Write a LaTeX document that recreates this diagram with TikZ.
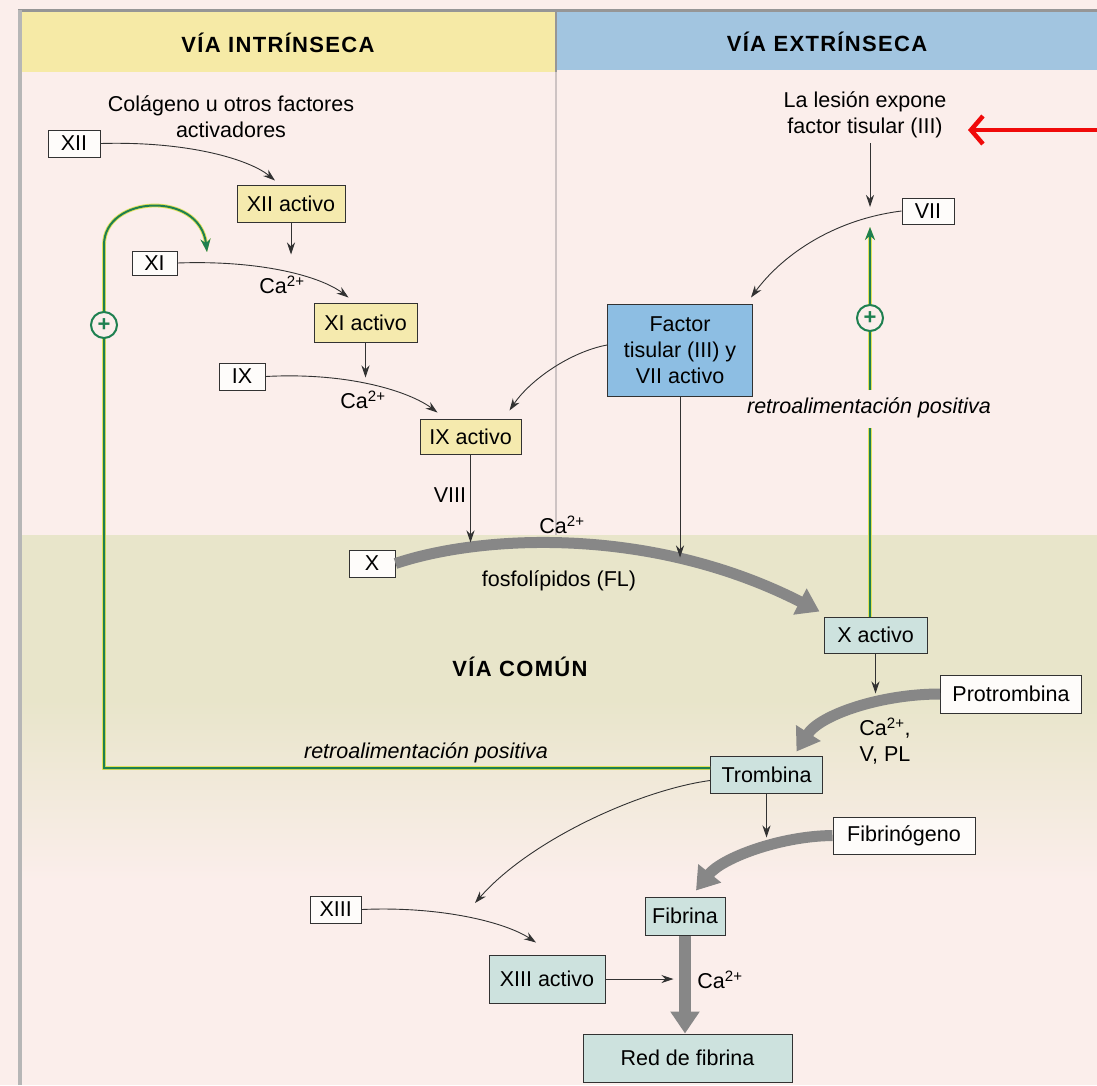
\documentclass[tikz,border=0pt]{standalone}
\usepackage{fontspec}
\setmainfont{Liberation Sans}
\usetikzlibrary{arrows.meta}
\definecolor{page}{RGB}{251,238,235}
\definecolor{band}{RGB}{232,229,202}
\definecolor{hdryellow}{RGB}{246,234,166}
\definecolor{hdrblue}{RGB}{162,197,224}
\definecolor{boxyellow}{RGB}{245,234,174}
\definecolor{boxblue}{RGB}{141,190,227}
\definecolor{boxteal}{RGB}{205,226,222}
\definecolor{boxwhite}{RGB}{254,252,250}
\definecolor{ink}{RGB}{50,50,50}
\definecolor{thickgrey}{RGB}{135,135,135}
\definecolor{fbgreen}{RGB}{30,128,80}
\definecolor{fbyellow}{RGB}{225,225,90}
\definecolor{framegrey}{RGB}{150,150,150}
\definecolor{sepgrey}{RGB}{205,195,195}
\definecolor{arrred}{RGB}{240,10,10}
\newcommand\fs{\fontsize{21.5}{26}\selectfont}
\newcommand\ttl{\fontsize{22}{26}\selectfont\bfseries\addfontfeatures{LetterSpace=6}}
\newcommand\caii{Ca\textsuperscript{2+}}
\begin{document}
\begin{tikzpicture}[x=1pt,y=-1pt,
  gbox/.style={draw=ink, line width=1pt, inner sep=0pt, align=center, font=\fs},
  wbox/.style={gbox, fill=boxwhite},
  ybox/.style={gbox, fill=boxyellow},
  blbox/.style={gbox, fill=boxblue},
  tbox/.style={gbox, fill=boxteal},
  lbl/.style={inner sep=0pt, align=center, font=\fs},
  ilbl/.style={inner sep=0pt, font=\fs\itshape},
  ttlnode/.style={inner sep=0pt, font=\ttl},
  thinarr/.style={draw=ink, line width=0.9pt, -{Stealth[length=12pt,width=8pt]}},
  thickarr/.style={draw=thickgrey, line width=11pt, -{Triangle[length=22pt,width=28pt]}},
  fbline/.style={draw=fbgreen, line width=2pt, preaction={draw=fbyellow, line width=3.8pt}},
  fbarr/.style={fbline, -{Stealth[length=13pt,width=10pt]}},
  plusnode/.style={circle, draw=fbgreen, line width=2pt, fill=page, inner sep=0pt, minimum size=26pt, text=fbgreen, font=\fontsize{22}{22}\selectfont\bfseries},
  redarr/.style={draw=arrred, line width=4.5pt, -{Straight Barb[length=12pt,width=28pt]}}
]
\useasboundingbox (0,0) rectangle (1097,1085);
% background
\fill[page] (0,0) rectangle (1097,1085);
\fill[band] (22,535) rectangle (1097,700);
\shade[top color=band, bottom color=page] (22,699.5) rectangle (1097,880);
\fill[hdryellow] (22,11) rectangle (556,72);
\fill[hdrblue] (556,11) rectangle (1097,70);
\draw[sepgrey, line width=1.5pt] (556,72) -- (556,535);
\draw[framegrey, line width=2pt] (556,10) -- (556,72);
\draw[framegrey, line width=3pt] (18,10) -- (1097,10);
\draw[framegrey!70, line width=4pt] (20,10) -- (20,1085);

% titles
\node[ttlnode] (tIntr) at (278,43) {VÍA INTRÍNSECA};
\node[ttlnode] (tExtr) at (827,42) {VÍA EXTRÍNSECA};
\node[ttlnode] (tComun) at (520,667) {VÍA COMÚN};

% boxes
\node[wbox, minimum width=52pt, minimum height=27pt] (XII) at (74,143.5) {XII};
\node[ybox, minimum width=108pt, minimum height=37pt] (XIIa) at (291,203.5) {XII activo};
\node[wbox, minimum width=45pt, minimum height=24pt] (XI) at (154.5,263) {XI};
\node[ybox, minimum width=103pt, minimum height=39pt] (XIa) at (365.5,322.5) {XI activo};
\node[wbox, minimum width=46pt, minimum height=27pt] (IX) at (242,376.5) {IX};
\node[ybox, minimum width=101pt, minimum height=35pt] (IXa) at (470.5,436.5) {IX activo};
\node[wbox, minimum width=46pt, minimum height=27pt] (X) at (372,563.5) {X};
\node[wbox, minimum width=52pt, minimum height=26pt] (VII) at (928,211) {VII};
\node[blbox, minimum width=145pt, minimum height=92pt] (FT) at (680,350) {Factor\\tisular (III) y\\VII activo};
\node[tbox, minimum width=103pt, minimum height=36pt] (Xa) at (875.5,635) {X activo};
\node[wbox, minimum width=141pt, minimum height=38pt] (Pro) at (1011,694) {Protrombina};
\node[tbox, minimum width=112pt, minimum height=37pt] (Tro) at (766.5,774.5) {Trombina};
\node[wbox, minimum width=142pt, minimum height=37pt] (Fbg) at (904,835.5) {Fibrinógeno};
\node[tbox, minimum width=80pt, minimum height=38pt] (Fib) at (685,916) {Fibrina};
\node[wbox, minimum width=51pt, minimum height=27pt] (XIII) at (335.7,909.5) {XIII};
\node[tbox, minimum width=116pt, minimum height=48pt] (XIIIa) at (547,979) {XIII activo};
\node[tbox, minimum width=209pt, minimum height=48pt] (Red) at (687.5,1058) {Red de fibrina};

% labels
\node[lbl] (col) at (231,117) {Colágeno u otros factores\\activadores};
\node[lbl] (les) at (865,115) {La lesión expone\\factor tisular (III)};
\node[lbl] (ca1) at (282,285) {\caii};
\node[lbl] (ca2) at (363,400) {\caii};
\node[lbl] (viii) at (450,495) {VIII};
\node[lbl] (ca3) at (562,525) {\caii};
\node[lbl] (fos) at (559,581) {fosfolípidos (FL)};
\node[lbl] (ca4) at (885,741) {\caii,\\V, PL};
\node[lbl] (ca5) at (720,980) {\caii};
\node[ilbl] (retro1) at (426,753) {retroalimentación positiva};
\node[ilbl] (retro2) at (869,408) {retroalimentación positiva};

% free-end coordinates
\coordinate (lesbot) at (870,143);
\coordinate (gtop) at (870,207);
\coordinate (vtip) at (870,227);
\coordinate (gmidA) at (870,390);
\coordinate (gmidB) at (870,428);
\coordinate (fbL) at (104,768);
\coordinate (fbTop) at (104,245);
\coordinate (tipL) at (207,252);
\coordinate (tx) at (475,903);
\coordinate (redR) at (1097,130);
\coordinate (redT) at (968,130);

% thick grey arrows
\draw[thickarr] (X.east) .. controls (480,535) and (650,525) .. ([xshift=-4pt,yshift=5pt]Xa.north west);
\draw[thickarr] (Pro.west) .. controls (880,694) and (820,715) .. ([xshift=30pt,yshift=4pt]Tro.north);
\draw[thickarr] (Fbg.west) .. controls (780,836) and (722,858) .. ([xshift=11pt,yshift=6pt]Fib.north);
\draw[thickarr, line width=12pt] (Fib.south) -- (Fib.south |- Red.north);

% thin arrows
\draw[thinarr] (XII.east) .. controls (190,141) and (250,160) .. ([xshift=-16pt,yshift=4pt]XIIa.north);
\draw[thinarr] (XIIa.south) -- ++(0,32);
\draw[thinarr] (XI.east) .. controls (260,260) and (320,276) .. ([xshift=-17pt,yshift=5pt]XIa.north);
\draw[thinarr] (XIa.south) -- ++(0,35);
\draw[thinarr] (IX.east) .. controls (350,372) and (410,392) .. ([xshift=-33pt,yshift=6pt]IXa.north);
\draw[thinarr] ([yshift=5pt]FT.west) .. controls (570,352) and (530,380) .. ([xshift=-12pt,yshift=8pt]IXa.north east);
\draw[thinarr] (IXa.south) -- ++(0,88);
\draw[thinarr] (lesbot) -- (gtop);
\draw[thinarr] (VII.west) .. controls (830,220) and (780,258) .. ([xshift=-2pt,yshift=6pt]FT.north east);
\draw[thinarr] (FT.south) -- ++(0,161);
\draw[thinarr] (Xa.south) -- ++(0,40);
\draw[thinarr] ([yshift=-6pt]Tro.west) .. controls (640,790) and (530,840) .. (tx);
\draw[thinarr] (Tro.south) -- ++(0,44);
\draw[thinarr] (XIII.east) .. controls (440,906) and (505,922) .. ([xshift=-11pt,yshift=12pt]XIIIa.north);
\draw[thinarr] (XIIIa.east) -- ++(68,0);

% feedback loops
\draw[fbarr] (Tro.west |- fbL) -- (fbL) -- (fbTop) .. controls (104,195) and (200,190) .. (tipL);
\draw[fbline] (Xa.north -| gtop) -- (gmidB);
\draw[fbarr] (gmidA) -- (vtip);
\node[plusnode] (p1) at (104,325) {+};
\node[plusnode] (p2) at (870,318) {+};

% red pointer
\draw[redarr] (redR) -- (redT);
\end{tikzpicture}
\end{document}
